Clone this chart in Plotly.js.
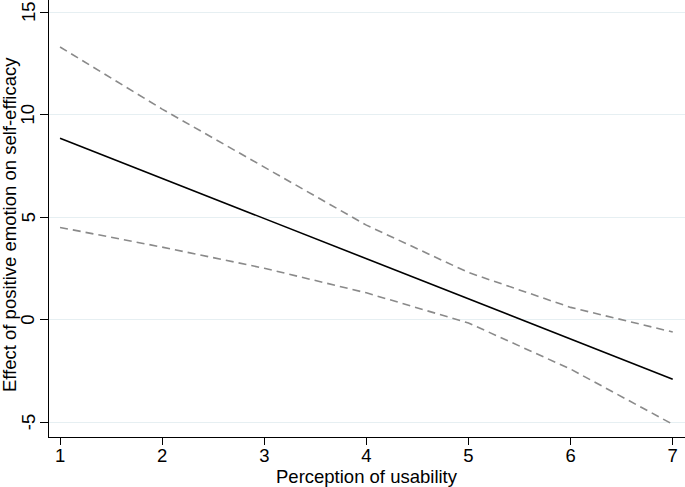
<!DOCTYPE html>
<html>
<head>
<meta charset="utf-8">
<script src="https://cdn.plot.ly/plotly-3.0.1.min.js"></script>
<style>html,body{margin:0;padding:0;background:#fff;}#chart{width:685px;height:487px;}</style>
</head>
<body>
<div id="chart"></div>
<script>
const usability = [1, 2, 3, 4, 5, 6, 7];
const effect = [8.85, 6.89, 4.93, 2.97, 1.01, -0.95, -2.9];
const upperCI = [13.3, 10.27, 7.44, 4.61, 2.3, 0.6, -0.6];
const lowerCI = [4.5, 3.54, 2.51, 1.31, -0.16, -2.41, -5.1];
const xTicks = [1, 2, 3, 4, 5, 6, 7];
const yTicks = [-5, 0, 5, 10, 15];
const xTitle = "Perception of usability";
const yTitle = "Effect of positive emotion on self-efficacy";

const font = "Liberation Sans, Arial, Helvetica, sans-serif";
const fs = 18.5;
const dashStyle = {color: "#8a8a8a", width: 1.6, dash: "8px,5px"};

const traces = [
  {x: usability, y: upperCI, mode: "lines", line: dashStyle, hoverinfo: "skip"},
  {x: usability, y: lowerCI, mode: "lines", line: dashStyle, hoverinfo: "skip"},
  {x: usability, y: effect, mode: "lines", line: {color: "#000000", width: 1.6}}
];

const yTickLabels = yTicks.map(v => ({
  text: String(v), xref: "paper", yref: "y", x: 0, y: v, xshift: -21,
  xanchor: "center", yanchor: "middle", textangle: -90, showarrow: false,
  borderpad: 0, font: {size: fs, family: font, color: "#000"}
}));

const layout = {
  width: 685, height: 487,
  margin: {l: 49, r: 0, t: 0, b: 50},
  paper_bgcolor: "#ffffff", plot_bgcolor: "#ffffff",
  showlegend: false,
  font: {family: font, color: "#000000", size: fs},
  xaxis: {
    range: [0.892, 7.12],
    tickvals: xTicks, ticktext: xTicks.map(String),
    ticks: "outside", ticklen: 7, tickwidth: 1, tickcolor: "#000",
    showline: true, linecolor: "#000", linewidth: 1.2,
    showgrid: false, zeroline: false,
    ticklabeloverflow: "allow",
    ticklabelstandoff: -5,
    tickfont: {size: fs, family: font}
  },
  yaxis: {
    range: [-5.72, 15.59],
    tickvals: yTicks, showticklabels: false,
    ticks: "outside", ticklen: 8, tickwidth: 1, tickcolor: "#000",
    showline: true, linecolor: "#000", linewidth: 1.2,
    showgrid: true, gridcolor: "#e6eff2", gridwidth: 1,
    zeroline: false
  },
  annotations: [
    {text: xTitle, xref: "paper", yref: "paper", x: 0.5, y: 0, yshift: -39,
     xanchor: "center", yanchor: "middle", showarrow: false, borderpad: 0,
     font: {size: fs, family: font, color: "#000"}},
    {text: yTitle, xref: "paper", yref: "paper", x: 0, y: 0.485, xshift: -40,
     xanchor: "center", yanchor: "middle", textangle: -90, showarrow: false, borderpad: 0,
     font: {size: fs, family: font, color: "#000"}}
  ].concat(yTickLabels)
};

Plotly.newPlot("chart", traces, layout, {displayModeBar: false, staticPlot: true});
</script>
</body>
</html>
